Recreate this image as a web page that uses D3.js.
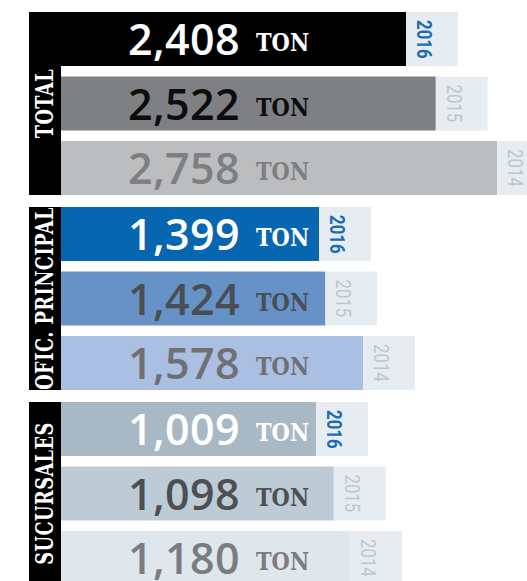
<!DOCTYPE html>
<html lang="es">
<head>
    <meta charset="UTF-8">
    <title>Toneladas por año</title>
    <script type="text/javascript" src="https://cdn.jsdelivr.net/npm/d3@7/dist/d3.min.js" charset="utf-8"></script>
    <style>
        body { margin: 0; background: #fff; }
    </style>
</head>
<body>
    <script>
    // datos
        var groups = ["TOTAL", "OFIC. PRINCIPAL", "SUCURSALES"];
        var years = ["2016", "2015", "2014"];
        var totalValues = [2408, 2522, 2758];
        var oficValues = [1399, 1424, 1578];
        var sucValues = [1009, 1098, 1180];
        var unit = "TON";

    // canvas
        var width = 527;
        var height = 581;

        var svg = d3.select("body")
                .append("svg")
                .attr("width", width)
                .attr("height", height);

        var barX = 61;      // left edge of bars
        var labelX = 29;    // left of black label box
        var tagW = 52;      // width of year tag
        var slab = "'DejaVu Serif', serif";

        // each group has its own width range (infographic, not a common scale)
        var widthRanges = [[345, 436], [258, 302], [255, 289]];

        var barColors = [
            ["#000000", "#7f8084", "#bcbdbf"],
            ["#0766b0", "#6692c8", "#aabfe1"],
            ["#a8b9c5", "#bdcbd6", "#dfe6ec"]
        ];
        var textColors = [
            ["#ffffff", "#0d0d0d", "#7e7f82"],
            ["#ffffff", "#4a4d52", "#6f7074"],
            ["#ffffff", "#4e4f51", "#7b7c80"]
        ];
        var yearColors = ["#1a6db4", "#b9c7d2", "#b9c7d2"];

        var data = groups.map(function(g, i) {
            var vals = [totalValues, oficValues, sucValues][i];
            return { name: g, index: i, values: vals };
        });

        var yGroup = d3.scaleBand()
                .domain(groups)
                .range([12, 585])
                .paddingInner(0.0615);

        var yRow = d3.scaleBand()
                .domain(years)
                .range([0, yGroup.bandwidth()])
                .paddingInner(0.163);

        var fmt = d3.format(",");

        var gs = svg.selectAll("g.group")
                .data(data)
                .enter()
                .append("g")
                .attr("class", "group")
                .attr("transform", function(d) { return "translate(0," + yGroup(d.name) + ")"; });

        // black label box
        gs.append("rect")
                .attr("x", labelX)
                .attr("y", 0)
                .attr("width", barX - labelX)
                .attr("height", yGroup.bandwidth())
                .attr("fill", "#000");

        gs.append("text")
                .attr("transform", "translate(" + (labelX + 24) + "," + (yGroup.bandwidth() / 2) + ") rotate(-90) scale(0.74,1)")
                .attr("text-anchor", "middle")
                .attr("fill", "#fff")
                .style("font-family", slab)
                .style("font-weight", "bold")
                .style("font-size", "24px")
                .style("letter-spacing", "0.6px")
                .text(function(d) { return d.name; });

        // rows
        gs.each(function(d) {
            var g = d3.select(this);
            var x = d3.scaleLinear()
                    .domain(d3.extent(d.values))
                    .range(widthRanges[d.index]);

            var rows = g.selectAll("g.row")
                    .data(d.values.map(function(v, j) { return { value: v, year: years[j], j: j }; }))
                    .enter()
                    .append("g")
                    .attr("class", "row")
                    .attr("transform", function(r) { return "translate(0," + yRow(r.year) + ")"; });

            // year tag background
            rows.append("rect")
                    .attr("x", function(r) { return barX + x(r.value); })
                    .attr("width", tagW)
                    .attr("height", yRow.bandwidth())
                    .attr("fill", "#e7ecf0");

            rows.append("rect")
                    .attr("x", barX)
                    .attr("width", function(r) { return x(r.value); })
                    .attr("height", yRow.bandwidth())
                    .attr("fill", function(r) { return barColors[d.index][r.j]; });

            rows.append("text")
                    .attr("x", 128)
                    .attr("y", 43)
                    .attr("fill", function(r) { return textColors[d.index][r.j]; })
                    .style("font-family", "'Open Sans', sans-serif")
                    .style("font-weight", "600")
                    .style("font-size", "43px")
                    .style("letter-spacing", "0.4px")
                    .text(function(r) { return fmt(r.value); });

            rows.append("text")
                    .attr("transform", "translate(256,39) scale(0.84,1)")
                    .attr("fill", function(r) { return textColors[d.index][r.j]; })
                    .style("font-family", slab)
                    .style("font-weight", "bold")
                    .style("font-size", "25px")
                    .text(unit);

            rows.append("text")
                    .attr("transform", function(r) {
                        return "translate(" + (barX + x(r.value) + 11) + ",8) rotate(90) scale(0.8,1)";
                    })
                    .attr("fill", function(r) { return yearColors[r.j]; })
                    .style("font-family", "'Roboto', sans-serif")
                    .style("font-weight", function(r) { return r.j === 0 ? "bold" : "normal"; })
                    .style("font-size", "21px")
                    .text(function(r) { return r.year; });
        });
    </script>
</body>
</html>
